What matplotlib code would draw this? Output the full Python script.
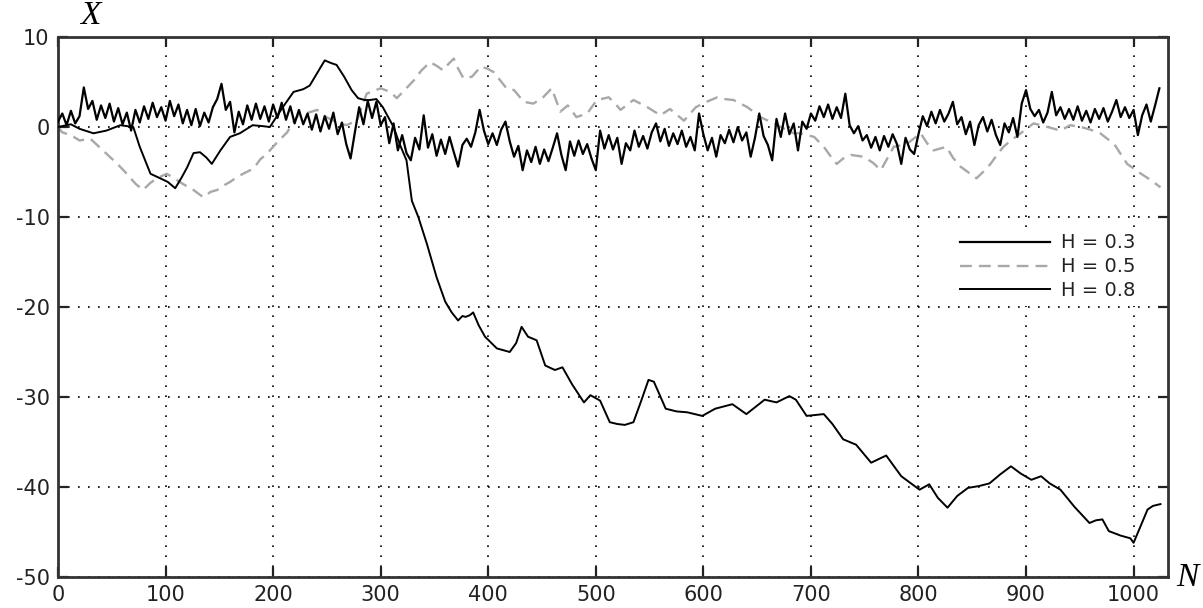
import numpy as np
import matplotlib
matplotlib.use("Agg")
import matplotlib.pyplot as plt

# ---- data ----
# H = 0.3 : noisy series, sampled every 4 steps
n_h03 = np.arange(0, 1025, 4)
x_h03 = [
    0.6, 1.5, 0.2, 1.8, 0.4, 1.2, 4.4, 2.0, 2.9, 0.8,
    2.4, 1.0, 2.6, 0.6, 2.1, 0.3, 1.6, -0.4, 1.9, 0.5,
    2.3, 0.9, 2.7, 1.1, 2.2, 0.7, 2.9, 1.2, 2.5, 0.4,
    1.9, 0.2, 2.0, 0.1, 1.6, 0.5, 2.2, 3.1, 4.8, 1.9,
    2.8, -0.6, 1.7, 0.3, 2.4, 0.8, 2.6, 0.9, 2.3, 0.6,
    2.5, 1.0, 2.7, 0.8, 2.3, 0.4, 1.9, 0.3, 1.5, -0.3,
    1.4, -0.5, 1.2, -0.2, 1.6, -0.8, 0.5, -1.9, -3.5, -0.6,
    2.2, 0.3, 2.9, 1.0, 2.8, 0.2, 1.1, -1.8, 0.4, -2.6,
    -0.9, -2.9, -3.7, -1.2, -2.5, 1.3, -2.3, -0.8, -3.2, -1.4,
    -3.0, -1.1, -2.8, -4.4, -2.0, -1.3, -2.2, -0.6, 1.9, -0.4,
    -1.9, -0.7, -2.0, -0.3, 0.6, -1.6, -3.3, -2.1, -4.8, -2.6,
    -3.9, -2.2, -4.1, -2.5, -3.8, -2.3, -0.7, -3.1, -4.8, -1.6,
    -3.2, -1.5, -3.0, -1.9, -3.5, -4.8, -0.4, -2.4, -0.9, -2.5,
    -1.2, -4.1, -1.8, -2.6, -0.4, -2.2, -1.0, -2.4, -0.6, 0.4,
    -1.6, -0.2, -2.1, -0.7, -1.9, -0.4, -2.2, -1.1, -2.6, 1.5,
    -0.8, -2.6, -1.2, -3.3, -0.9, -1.8, -0.3, -1.7, 0.0, -1.5,
    -0.6, -3.3, -1.2, 1.5, -1.0, -2.0, -3.7, 0.9, -1.1, 1.5,
    -0.8, 0.4, -2.6, 0.6, -0.2, 1.5, 0.7, 2.3, 1.1, 2.5,
    0.9, 2.2, 1.0, 3.7, 0.2, -0.7, 0.1, -1.5, -0.9, -2.3,
    -1.1, -2.6, -1.0, -2.2, -0.8, -1.9, -4.1, -1.2, -2.5, -3.0,
    -0.8, 1.2, 0.1, 1.7, 0.4, 1.9, 0.6, 1.5, 2.8, 0.3,
    1.1, -0.8, 0.6, -2.0, 0.2, 1.1, -0.5, 0.8, -0.9, -2.0,
    0.4, -0.6, 1.0, -1.1, 2.6, 4.1, 2.0, 1.2, 1.9, 0.5,
    1.6, 3.9, 1.3, 2.2, 0.9, 2.0, 0.8, 2.3, 0.7, 1.8,
    0.5, 2.0, 0.9, 2.1, 0.6, 1.7, 3.0, 1.1, 2.2, 1.0,
    1.9, -0.9, 1.3, 2.5, 0.6, 2.4, 4.3,
]

# H = 0.5 : grey dashed series
n_h05 = [0, 4, 12, 20, 30, 40, 48, 56, 64, 72, 79, 86, 92, 101, 107, 113, 120,
         126, 135, 142, 148, 154, 160, 166, 172, 182, 188, 194, 203, 213, 219,
         225, 233, 241, 248, 256, 262, 268, 278, 283, 287, 293, 300, 309, 315,
         323, 331, 338, 346, 352, 358, 363, 368, 372, 377, 385, 393, 399, 405,
         411, 417, 424, 433, 442, 451, 459, 463, 467, 474, 482, 492, 501, 512,
         518, 523, 535, 548, 560, 569, 576, 582, 593, 603, 613, 620, 628, 641,
         653, 662, 672, 684, 690, 703, 712, 718, 724, 730, 737, 749, 758, 765,
         771, 777, 789, 802, 808, 814, 826, 832, 839, 846, 854, 860, 867, 873,
         879, 887, 895, 907, 920, 932, 941, 951, 960, 969, 982, 988, 994, 1000,
         1007, 1016, 1025]
x_h05 = [0, -0.6, -0.9, -1.5, -1.3, -2.4, -3.3, -4.2, -5.2, -6.3, -7.0, -6.2,
         -5.7, -5.2, -5.6, -6.1, -6.6, -7.0, -7.8, -7.2, -7.0, -6.5, -6.1, -5.6,
         -5.2, -4.6, -3.6, -3.0, -1.8, -0.6, 0.6, 1.5, 1.6, 1.9, 1.2, 0.7, 0.4,
         0.2, 0.7, 2.4, 3.7, 4.0, 4.3, 3.9, 3.2, 4.2, 5.2, 6.3, 7.2, 6.8, 6.3,
         7.0, 7.6, 6.5, 5.4, 5.6, 6.7, 6.5, 6.1, 5.2, 4.3, 4.1, 2.8, 2.6, 3.3,
         4.3, 3.0, 1.7, 2.4, 1.1, 1.5, 3.0, 3.3, 2.6, 1.9, 3.0, 2.2, 1.3, 2.0,
         1.3, 0.7, 2.2, 2.8, 3.3, 3.1, 3.0, 2.2, 1.1, 0.6, 0.0, -0.7, -0.7,
         -1.1, -2.2, -3.2, -4.1, -3.5, -3.1, -3.3, -4.0, -4.8, -3.5, -2.2, -1.9,
         -0.7, -1.8, -2.6, -2.2, -3.4, -4.4, -5.0, -5.7, -5.0, -4.1, -3.1, -2.2,
         -1.4, -0.7, 0.4, 0.0, -0.4, 0.2, 0.0, -0.3, -0.7, -1.9, -3.0, -4.1,
         -4.6, -5.2, -5.9, -6.7]

# H = 0.8 : smooth drifting series
n_h08 = [0, 12, 20, 33, 45, 58, 70, 76, 86, 95, 102, 109, 115, 120, 126, 132,
         138, 143, 151, 160, 169, 181, 190, 197, 209, 219, 228, 234, 240, 248,
         254, 259, 266, 273, 279, 285, 290, 296, 302, 312, 318, 324, 329, 335,
         343, 352, 360, 366, 372, 376, 379, 383, 386, 391, 397, 408, 420, 426,
         431, 437, 445, 453, 462, 469, 478, 489, 495, 504, 513, 520, 527, 535,
         542, 549, 554, 565, 575, 585, 599, 611, 627, 640, 657, 668, 680, 686,
         696, 712, 720, 730, 742, 756, 770, 784, 801, 810, 818, 827, 836, 846,
         856, 866, 876, 886, 895, 905, 914, 922, 932, 945, 959, 965, 971, 977,
         988, 997, 1000, 1006, 1013, 1018, 1025]
x_h08 = [0, 0.3, -0.2, -0.7, -0.4, 0.2, 0.0, -2.2, -5.2, -5.7, -6.1, -6.8,
         -5.6, -4.5, -2.9, -2.8, -3.4, -4.1, -2.6, -1.1, -0.7, 0.2, 0.1, 0.0,
         2.2, 3.9, 4.2, 4.6, 5.8, 7.4, 7.1, 6.9, 5.6, 4.1, 3.2, 3.0, 3.0, 3.1,
         2.2, 0.0, -2.0, -3.7, -8.2, -10.0, -13.0, -16.7, -19.4, -20.6, -21.5,
         -21.0, -21.1, -20.9, -20.6, -22.0, -23.3, -24.6, -25.0, -24.0, -22.2,
         -23.3, -23.7, -26.5, -27.0, -26.7, -28.6, -30.6, -29.8, -30.4, -32.8,
         -33.0, -33.1, -32.8, -30.5, -28.1, -28.3, -31.3, -31.6, -31.7, -32.1,
         -31.3, -30.8, -31.9, -30.3, -30.6, -29.9, -30.3, -32.1, -31.9, -33.0,
         -34.7, -35.3, -37.3, -36.5, -38.8, -40.3, -39.7, -41.2, -42.3, -41.0,
         -40.1, -39.9, -39.6, -38.6, -37.7, -38.5, -39.2, -38.8, -39.6, -40.3,
         -42.2, -44.0, -43.7, -43.6, -44.9, -45.4, -45.7, -46.2, -44.5, -42.5,
         -42.1, -41.9]

x_ticks = [0, 100, 200, 300, 400, 500, 600, 700, 800, 900, 1000]
y_ticks = [10, 0, -10, -20, -30, -40, -50]

plt.rcParams["axes.unicode_minus"] = False

# ---- figure ----
fig = plt.figure(figsize=(12.03, 6.08), dpi=100)
ax = fig.add_axes([58 / 1203, 31 / 608, 1110 / 1203, 540 / 608])

ax.plot(n_h03, x_h03, color="black", lw=1.6, label="H = 0.3", zorder=3)
ax.plot(n_h05, x_h05, color="#a8a8a8", lw=1.7, ls=(0, (5, 3)), label="H = 0.5", zorder=2)
ax.plot(n_h08, x_h08, color="black", lw=1.4, label="H = 0.8", zorder=4)

ax.set_xlim(0, 1032)
ax.set_ylim(-50, 10)
ax.set_xticks(x_ticks)
ax.set_yticks(y_ticks)
ax.grid(True, color="black", ls=(0, (1, 5)), lw=1.2)
ax.tick_params(direction="in", length=7, width=1.6, top=True, right=True,
               labelsize=15, colors="#222222", pad=6)
for s in ax.spines.values():
    s.set_linewidth(2)
    s.set_color("#333333")

leg = ax.legend(loc="upper right", bbox_to_anchor=(0.985, 0.665), fontsize=14,
                handlelength=4.6, frameon=True, framealpha=1, edgecolor="none",
                facecolor="white", borderpad=0.3, labelspacing=0.25,
                handletextpad=0.6)
for t in leg.get_texts():
    t.set_color("#222222")

fig.text(90 / 1203, 1 - 16 / 608, "X", family="Liberation Serif", style="italic",
         fontsize=24, ha="center", va="center")
fig.text(1187 / 1203, 1 - 578 / 608, "N", family="Liberation Serif", style="italic",
         fontsize=24, ha="center", va="center")

fig.savefig("out.png", dpi=100)
